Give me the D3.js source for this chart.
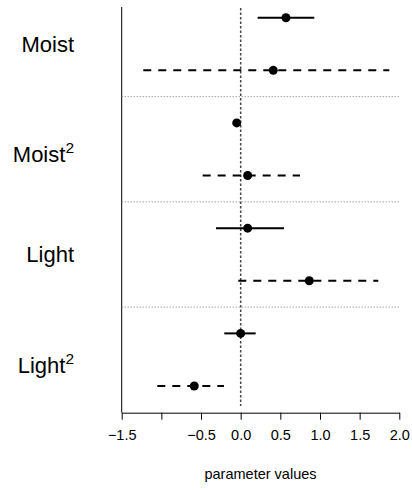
<!DOCTYPE html>
<html>
<head>
<meta charset="utf-8">
<script src="https://cdn.jsdelivr.net/npm/d3@7"></script>
<style>
  html, body { margin: 0; padding: 0; background: #fff; }
  svg { display: block; font-family: "Liberation Sans", Arial, Helvetica, sans-serif; }
</style>
</head>
<body>
<svg id="chart" width="412" height="490"></svg>
<script>
// Coefficient estimates with intervals for two models (solid / dashed) per term
const terms = ["Moist", "Moist", "Light", "Light"];
const termPowers = ["", "2", "", "2"];

const estimateSolid = [0.571, -0.05, 0.088, 0.0];
const lowerSolid    = [0.214, -0.09, -0.311, -0.207];
const upperSolid    = [0.928, -0.01, 0.546, 0.189];

const estimateDashed = [0.411, 0.088, 0.865, -0.585];
const lowerDashed    = [-1.228, -0.479, -0.03, -1.051];
const upperDashed    = [1.874, 0.748, 1.735, -0.21];

const xTicks = [-1.5, -1.0, -0.5, 0.0, 0.5, 1.0, 1.5, 2.0];
const xTickLabels = ["\u22121.5", "", "\u22120.5", "0.0", "0.5", "1.0", "1.5", "2.0"];
const xTitle = "parameter values";

const svg = d3.select("#chart");

const x = d3.scaleLinear().domain([-1.5, 2.0]).range([121.7, 399.3]);

// one row per (term, model) pair, top to bottom
const rows = [];
terms.forEach((t, i) => {
  rows.push({ key: i + "s", term: i, est: estimateSolid[i], lo: lowerSolid[i], hi: upperSolid[i], dashed: false });
  rows.push({ key: i + "d", term: i, est: estimateDashed[i], lo: lowerDashed[i], hi: upperDashed[i], dashed: true });
});
const y = d3.scalePoint().domain(rows.map(r => r.key)).range([17.7, 386]);
const step = y.step();

// left frame line
svg.append("line")
  .attr("x1", x(-1.5)).attr("x2", x(-1.5))
  .attr("y1", 7).attr("y2", 412.7)
  .attr("stroke", "#000").attr("stroke-width", 1);

// separators between terms
for (let i = 1; i < terms.length; i++) {
  const yy = y(i + "s") - step / 2;
  svg.append("line")
    .attr("x1", x(-1.5)).attr("x2", x(2.0))
    .attr("y1", yy).attr("y2", yy)
    .attr("stroke", "#777").attr("stroke-width", 1)
    .attr("stroke-dasharray", "1,2");
}

// zero reference line
svg.append("line")
  .attr("x1", x(0)).attr("x2", x(0))
  .attr("y1", 8).attr("y2", 406)
  .attr("stroke", "#444").attr("stroke-width", 1.5)
  .attr("stroke-dasharray", "2.5,2");

// interval segments
svg.selectAll("line.ci").data(rows).enter().append("line")
  .attr("class", "ci")
  .attr("x1", d => x(d.lo)).attr("x2", d => x(d.hi))
  .attr("y1", d => y(d.key)).attr("y2", d => y(d.key))
  .attr("stroke", "#000").attr("stroke-width", 2)
  .attr("stroke-dasharray", d => d.dashed ? "8,7" : null);

// point estimates
svg.selectAll("circle.est").data(rows).enter().append("circle")
  .attr("class", "est")
  .attr("cx", d => x(d.est)).attr("cy", d => y(d.key))
  .attr("r", 4.5).attr("fill", "#000");

// term labels
terms.forEach((t, i) => {
  const mid = (y(i + "s") + y(i + "d")) / 2;
  const txt = svg.append("text")
    .attr("x", 74)
    .attr("y", mid + (termPowers[i] ? 13 : 8))
    .attr("text-anchor", "end")
    .attr("font-size", 22)
    .attr("fill", "#000");
  txt.append("tspan").text(t);
  if (termPowers[i]) {
    txt.append("tspan").attr("dy", -9).attr("font-size", 15.5).text(termPowers[i]);
  }
});

// x axis
const xAxis = d3.axisBottom(x)
  .tickValues(xTicks)
  .tickFormat((d, i) => xTickLabels[i])
  .tickSize(7)
  .tickPadding(10)
  .tickSizeOuter(0);
const gx = svg.append("g").attr("transform", "translate(0,412.7)").call(xAxis);
gx.select(".domain").attr("stroke", "#000").attr("stroke-width", 1);
gx.selectAll(".tick line").attr("stroke", "#000").attr("stroke-width", 1);
gx.selectAll(".tick text")
  .attr("font-size", 14.5)
  .attr("font-family", "Liberation Sans, Arial, sans-serif")
  .attr("fill", "#000");

svg.append("text")
  .attr("x", (x(-1.5) + x(2.0)) / 2)
  .attr("y", 479)
  .attr("text-anchor", "middle")
  .attr("font-size", 14.5)
  .attr("fill", "#000")
  .text(xTitle);
</script>
</body>
</html>
